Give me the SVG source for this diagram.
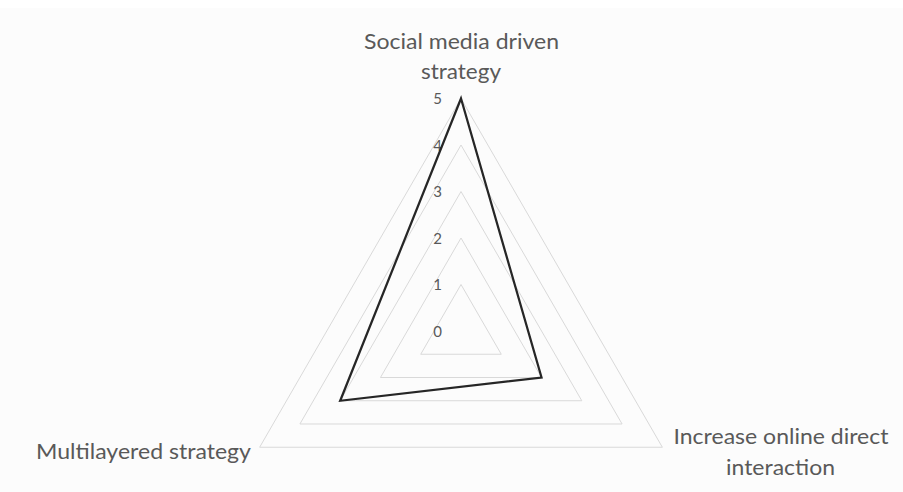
<svg xmlns="http://www.w3.org/2000/svg" width="903" height="492" viewBox="0 0 903 492">
  <style>
    .grid { fill: none; stroke: #d9d9d9; stroke-width: 1; }
    .data { fill: none; stroke: #262626; stroke-width: 2.25; stroke-linejoin: miter; }
    .lbl { font-family: Lato, "Liberation Sans", sans-serif; font-size: 22px; fill: #595959; text-anchor: middle; }
    .tick { font-family: Lato, "Liberation Sans", sans-serif; font-size: 15px; fill: #595959; text-anchor: end; }
  </style>
  <rect x="0" y="0" width="903" height="492" fill="#ffffff"/>
  <rect x="0" y="8" width="903" height="484" fill="#fcfcfc"/>
  <g id="grid">
    <polygon class="grid" points="461,284.5 501.27,354.25 420.73,354.25"/>
    <polygon class="grid" points="461,238 541.54,377.5 380.46,377.5"/>
    <polygon class="grid" points="461,191.5 581.81,400.75 340.19,400.75"/>
    <polygon class="grid" points="461,145 622.08,424 299.92,424"/>
    <polygon class="grid" points="461,98.5 662.35,447.25 259.65,447.25"/>
  </g>
  <g id="ticks">
    <text class="tick" x="442" y="336.5">0</text>
    <text class="tick" x="442" y="290">1</text>
    <text class="tick" x="442" y="243.5">2</text>
    <text class="tick" x="442" y="197">3</text>
    <text class="tick" x="442" y="150.5">4</text>
    <text class="tick" x="442" y="104">5</text>
  </g>
  <g id="connectors">
    <polygon id="series" class="data" points="461,98.5 541.54,377.5 340.19,400.75"/>
  </g>
  <g id="axis-social">
    <text class="lbl" x="461.5" y="48.5" textLength="195" lengthAdjust="spacingAndGlyphs">Social media driven</text>
    <text class="lbl" x="461" y="79" textLength="80" lengthAdjust="spacingAndGlyphs">strategy</text>
  </g>
  <g id="axis-increase">
    <text class="lbl" x="781" y="444" textLength="215" lengthAdjust="spacingAndGlyphs">Increase online direct</text>
    <text class="lbl" x="780.5" y="474.5" textLength="109" lengthAdjust="spacingAndGlyphs">interaction</text>
  </g>
  <g id="axis-multi">
    <text class="lbl" x="143.5" y="459.3" textLength="215" lengthAdjust="spacingAndGlyphs">Multilayered strategy</text>
  </g>
</svg>
